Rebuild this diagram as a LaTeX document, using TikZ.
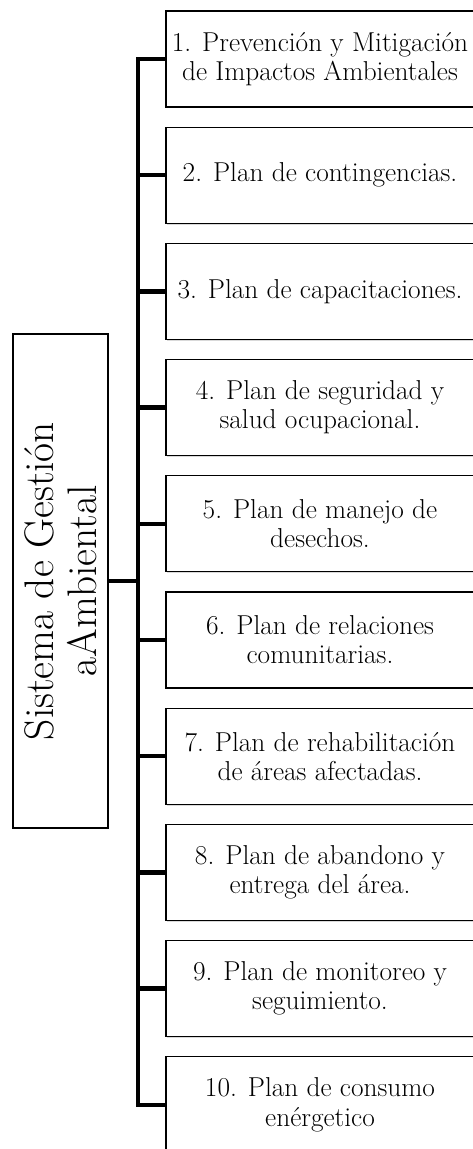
\documentclass[tikz,border=0pt]{standalone}
\usetikzlibrary{shadows}
\begin{document}
\begin{tikzpicture}[x=0.75pt,y=-0.75pt,
        plan/.style={draw, line width=0.9pt, fill=white, align=center,
            minimum width=231pt, minimum height=72pt, inner sep=0pt,
            font=\fontsize{20.5}{21.8}\selectfont,
            drop shadow={opacity=0.3, shadow xshift=0.8pt, shadow yshift=-1.1pt}},
        root/.style={draw, line width=0.9pt, fill=white, align=center, rotate=90,
            minimum width=370.5pt, minimum height=71.25pt, inner sep=0pt,
            font=\fontsize{31}{32.5}\selectfont,
            drop shadow={opacity=0.3, shadow xshift=-1.1pt, shadow yshift=-0.8pt}},
        stem/.style={line width=3.2pt}]
        \useasboundingbox (0,0) rectangle (472,1149);
        \node[root] (sga) at (60.5,581) {Sistema de Gestión\\aAmbiental};
        \foreach \i/\txt in {1/{1. Prevención y Mitigación\\de Impactos Ambientales},
                2/{2. Plan de contingencias.},
                3/{3. Plan de capacitaciones.},
                4/{4. Plan de seguridad y\\salud ocupacional.},
                5/{5. Plan de manejo de\\desechos.},
                6/{6. Plan de relaciones\\comunitarias.},
                7/{7. Plan de rehabilitación\\de áreas afectadas.},
                8/{8. Plan de abandono y\\entrega del área.},
                9/{9. Plan de monitoreo y\\seguimiento.},
                10/{10. Plan de consumo\\enérgetico}}
            \node[plan] (p\i) at (320,{59+116.2*(\i-1)}) {\txt};
        \coordinate (trunk) at (138,581);
        \draw[stem] (p1.west) -| (p10.west -| trunk) -- (p10.west);
        \foreach \i in {2,...,9}
            \draw[stem] (p\i.west) -- (p\i.west -| trunk);
        \draw[stem] (sga.south) -- (trunk);
    \end{tikzpicture}
\end{document}
